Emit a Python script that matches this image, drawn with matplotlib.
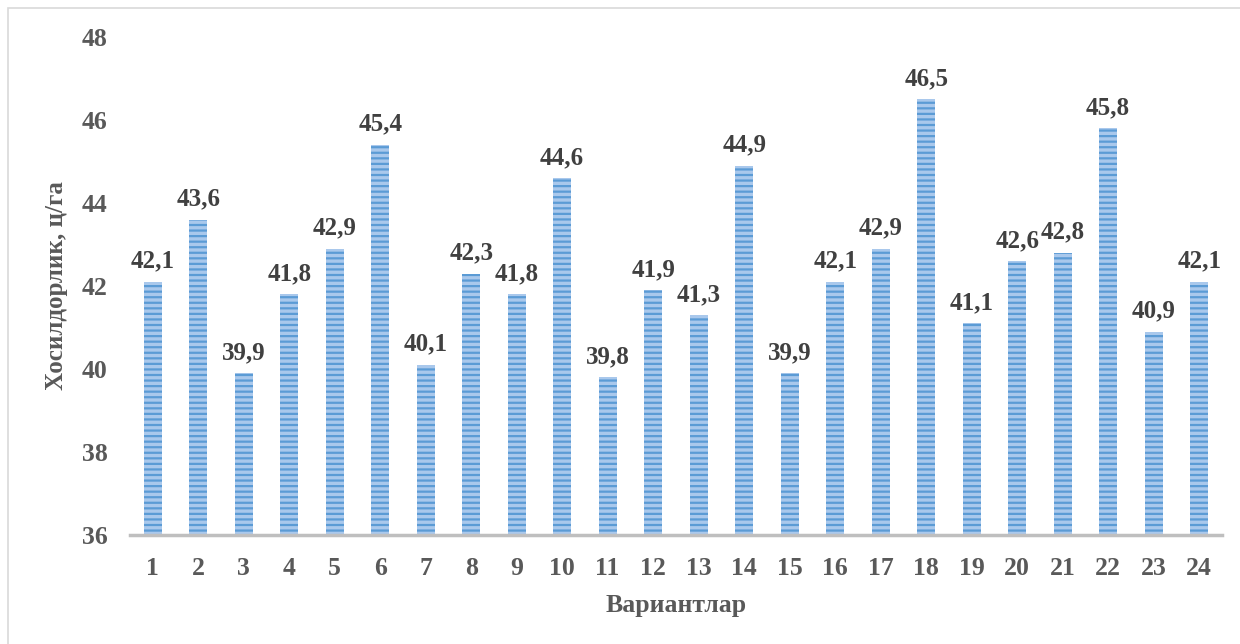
import matplotlib.pyplot as plt
import matplotlib as mpl

mpl.rcParams['font.family'] = ['Liberation Serif', 'DejaVu Serif']
mpl.rcParams['hatch.linewidth'] = 1.6

# data
variants = [str(i) for i in range(1, 25)]
yields = [42.1, 43.6, 39.9, 41.8, 42.9, 45.4, 40.1, 42.3, 41.8, 44.6, 39.8, 41.9,
          41.3, 44.9, 39.9, 42.1, 42.9, 46.5, 41.1, 42.6, 42.8, 45.8, 40.9, 42.1]
yticks = [36, 38, 40, 42, 44, 46, 48]

fig = plt.figure(figsize=(12.4, 6.44), dpi=100)
ax = fig.add_axes([0.1048, 0.1693, 0.8806, 0.7732])

x = range(len(variants))
bars = ax.bar(x, yields, width=0.4, bottom=0, color='#a9c8ec', edgecolor='#5b9bd5',
              hatch='---', linewidth=0)

for xi, v in zip(x, yields):
    ax.text(xi, v + 0.22, f'{v:.1f}'.replace('.', ','), ha='center', va='bottom',
            fontsize=18, fontweight='bold', color='#404040')

ax.set_ylim(36, 48)
ax.set_xlim(-0.5, len(variants) - 0.5)
ax.set_yticks(yticks)
ax.set_xticks(list(x))
ax.set_xticklabels(variants)

for s in ['top', 'right', 'left']:
    ax.spines[s].set_visible(False)
ax.spines['bottom'].set_color('#bfbfbf')
ax.spines['bottom'].set_linewidth(2.5)
ax.tick_params(axis='both', length=0, labelsize=18.5, colors='#595959')
ax.tick_params(axis='x', pad=16)
ax.tick_params(axis='y', pad=16)
for lab in ax.get_xticklabels() + ax.get_yticklabels():
    lab.set_fontweight('bold')

ax.set_xlabel('Вариантлар', fontsize=18.5, fontweight='bold', color='#595959', labelpad=10)
ax.set_ylabel('Хосилдорлик, ц/га', fontsize=18, fontweight='bold', color='#595959', labelpad=10)

# outer frame
fig.patches.append(plt.Rectangle((8 / 1240, -0.05), 1.1, 1 - 8 / 644 + 0.05,
                                 transform=fig.transFigure,
                                 fill=False, edgecolor='#d9d9d9', linewidth=1.2))

fig.savefig('out.png', dpi=100)
